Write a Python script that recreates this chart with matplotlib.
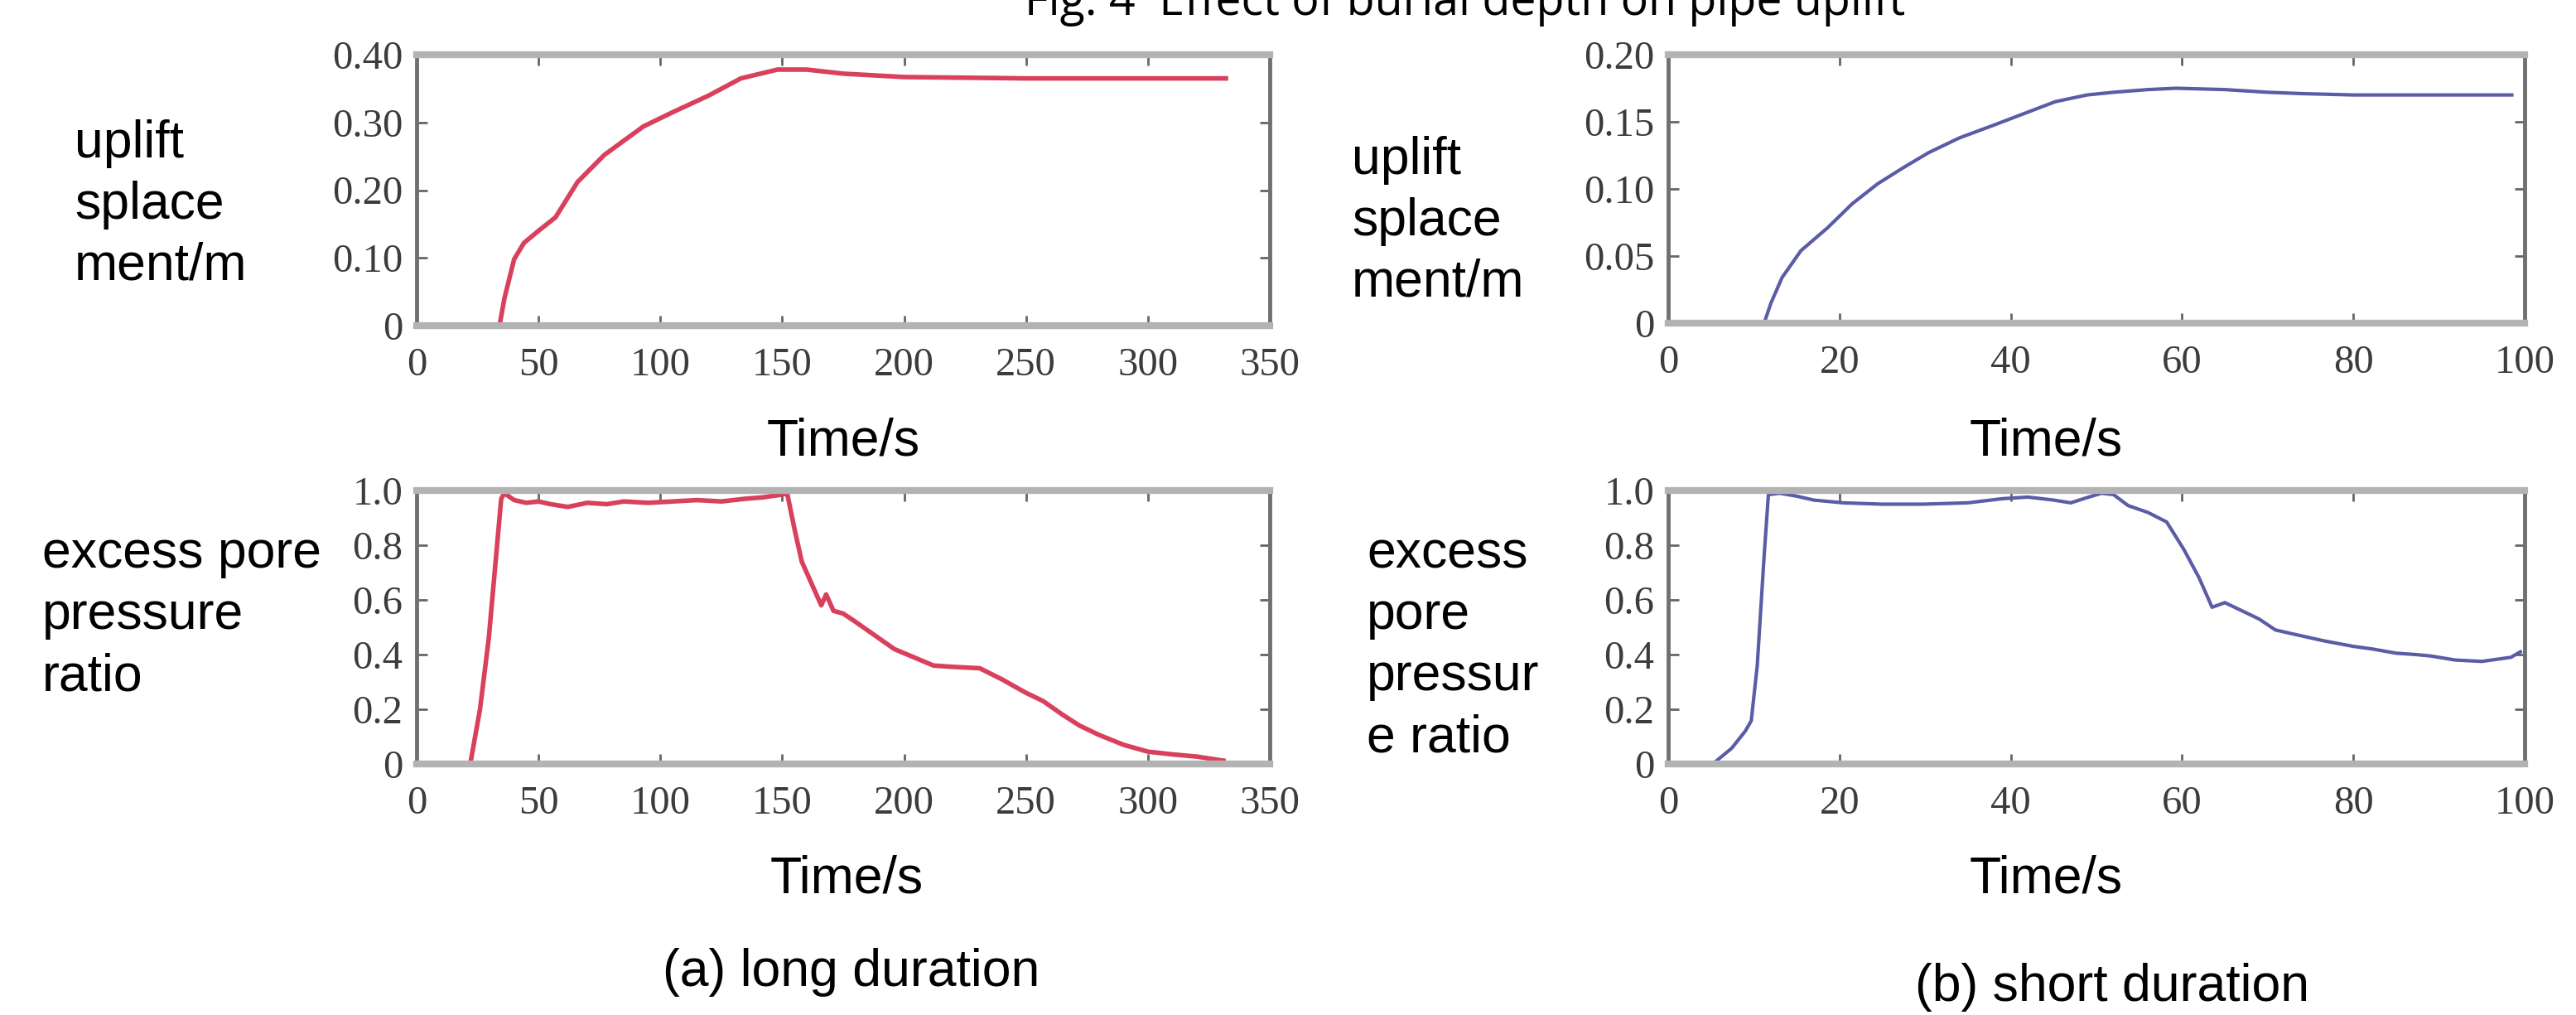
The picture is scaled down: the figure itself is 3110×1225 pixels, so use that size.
import numpy as np
import matplotlib
matplotlib.use('Agg')
import matplotlib.pyplot as plt

# (a) long duration
t_up_a = [0, 34, 36, 40, 44, 50, 57, 66, 77, 93, 105, 120, 133, 148, 160, 175, 200, 250, 300, 332]
v_up_a = [0, 0, 0.04, 0.098, 0.122, 0.14, 0.16, 0.212, 0.252, 0.294, 0.315, 0.34, 0.365, 0.378,
          0.378, 0.372, 0.367, 0.365, 0.365, 0.365]
t_pp_a = [0, 22, 26, 29.6, 32, 34.7, 36, 40, 45, 50, 55, 62, 70, 78, 85, 95, 105, 115, 125, 135,
          142, 150, 152, 155, 158, 162, 166, 168, 171, 175, 180, 188, 196, 204, 212, 220, 231, 240,
          250, 257, 265, 272, 280, 290, 300, 310, 320, 331]
v_pp_a = [0, 0, 0.2, 0.46, 0.7, 0.97, 0.99, 0.965, 0.955, 0.96, 0.95, 0.94, 0.955, 0.95, 0.96,
          0.955, 0.96, 0.965, 0.96, 0.97, 0.975, 0.985, 0.99, 0.86, 0.74, 0.66, 0.58, 0.62, 0.56,
          0.55, 0.52, 0.47, 0.42, 0.39, 0.36, 0.355, 0.35, 0.31, 0.26, 0.23, 0.18, 0.14, 0.106,
          0.07, 0.045, 0.035, 0.027, 0.012]

# (b) short duration
t_up_b = [0, 11.2, 12, 13.3, 15.5, 18.6, 21.5, 24.5, 27.5, 30.4, 34, 37.8, 41.5, 45.2, 48.9, 52,
          56, 59.3, 65, 70, 74, 80, 90, 98.5]
v_up_b = [0, 0, 0.015, 0.034, 0.054, 0.071, 0.089, 0.104, 0.116, 0.127, 0.138, 0.147, 0.156,
          0.165, 0.170, 0.172, 0.174, 0.175, 0.174, 0.172, 0.171, 0.170, 0.170, 0.170]
t_pp_b = [0, 5.2, 7.4, 9.0, 9.7, 10.4, 11.2, 11.7, 13, 14.9, 17, 20.4, 25, 29.7, 35, 39, 42, 45,
          47, 49, 50.6, 52, 53.7, 56, 58.2, 60.2, 62, 63.5, 65, 67, 69, 70.9, 73, 76.6, 80, 82.3,
          85, 87.3, 89, 91.9, 95, 98.4, 99.5]
v_pp_b = [0, 0, 0.057, 0.12, 0.158, 0.36, 0.76, 0.985, 0.99, 0.98, 0.965, 0.955, 0.95, 0.95,
          0.955, 0.97, 0.976, 0.965, 0.955, 0.975, 0.99, 0.985, 0.945, 0.92, 0.885, 0.785, 0.68,
          0.573, 0.59, 0.56, 0.53, 0.49, 0.475, 0.45, 0.43, 0.42, 0.405, 0.40, 0.395, 0.38, 0.375,
          0.39, 0.41]

xt_a = [0, 50, 100, 150, 200, 250, 300, 350]
xt_b = [0, 20, 40, 60, 80, 100]
yt_up_a = [0, 0.1, 0.2, 0.3, 0.4]
yl_up_a = ['0', '0.10', '0.20', '0.30', '0.40']
yt_up_b = [0, 0.05, 0.1, 0.15, 0.2]
yl_up_b = ['0', '0.05', '0.10', '0.15', '0.20']
yt_pp = [0, 0.2, 0.4, 0.6, 0.8, 1.0]
yl_pp = ['0', '0.2', '0.4', '0.6', '0.8', '1.0']

RED = '#d8405c'
BLUE = '#5a5ca6'
W, H = 3110, 1225

fig = plt.figure(figsize=(W / 100, H / 100), dpi=100)


def px_axes(x0, y0, x1, y1):
    return fig.add_axes([x0 / W, 1 - y1 / H, (x1 - x0) / W, (y1 - y0) / H])


def style(ax, xt, yt, yl, xmax, ymax):
    ax.set_xlim(0, xmax)
    ax.set_ylim(0, ymax)
    ax.set_xticks(xt)
    ax.set_xticklabels([str(v) for v in xt])
    ax.set_yticks(yt)
    ax.set_yticklabels(yl)
    ax.tick_params(direction='in', top=True, right=True, length=9, width=2,
                   color='#666666', labelcolor='#3c3c3c', labelsize=35)
    ax.tick_params(axis='x', pad=19)
    ax.tick_params(axis='y', pad=12)
    for lab in ax.get_xticklabels() + ax.get_yticklabels():
        lab.set_family('Liberation Serif')
    for s in ['top', 'bottom']:
        ax.spines[s].set_color('#b3b3b3')
        ax.spines[s].set_linewidth(6)
    for s in ['left', 'right']:
        ax.spines[s].set_color('#707070')
        ax.spines[s].set_linewidth(3.5)


ax1 = px_axes(503, 66, 1533, 393)
ax1.plot(t_up_a, v_up_a, color=RED, lw=4)
style(ax1, xt_a, yt_up_a, yl_up_a, 350, 0.4)

ax2 = px_axes(2014, 66, 3048, 390)
ax2.plot(t_up_b, v_up_b, color=BLUE, lw=3)
style(ax2, xt_b, yt_up_b, yl_up_b, 100, 0.2)

ax3 = px_axes(503, 592, 1533, 922)
ax3.plot(t_pp_a, v_pp_a, color=RED, lw=4)
style(ax3, xt_a, yt_pp, yl_pp, 350, 1.0)

ax4 = px_axes(2014, 592, 3048, 922)
ax4.plot(t_pp_b, v_pp_b, color=BLUE, lw=3)
style(ax4, xt_b, yt_pp, yl_pp, 100, 1.0)


def label(x, y, s, size=45, ha='left', **kw):
    fig.text(x / W, 1 - y / H, s, fontsize=size, ha=ha, va='baseline',
             family='Liberation Sans', color='black', **kw)


def block(x, y0, lines, step=74):
    for i, s in enumerate(lines):
        label(x, y0 + i * step, s)


block(90, 190, ['uplift', 'splace', 'ment/m'])
block(1632, 210, ['uplift', 'splace', 'ment/m'])
block(51, 685, ['excess pore', 'pressure', 'ratio'])
block(1650, 685, ['excess', 'pore', 'pressur', 'e ratio'])

label(1018, 549, 'Time/s', ha='center')
label(2470, 549, 'Time/s', ha='center')
label(1022, 1077, 'Time/s', ha='center')
label(2470, 1077, 'Time/s', ha='center')
label(1028, 1190, '(a) long duration', ha='center')
label(2550, 1208, '(b) short duration', ha='center')

fig.text(1237 / W, 1 - 18 / H, 'Fig. 4  Effect of burial depth on pipe uplift', fontsize=40,
         ha='left', va='baseline', family='Open Sans', color='black')

fig.savefig('out.png', dpi=100, facecolor='white')
